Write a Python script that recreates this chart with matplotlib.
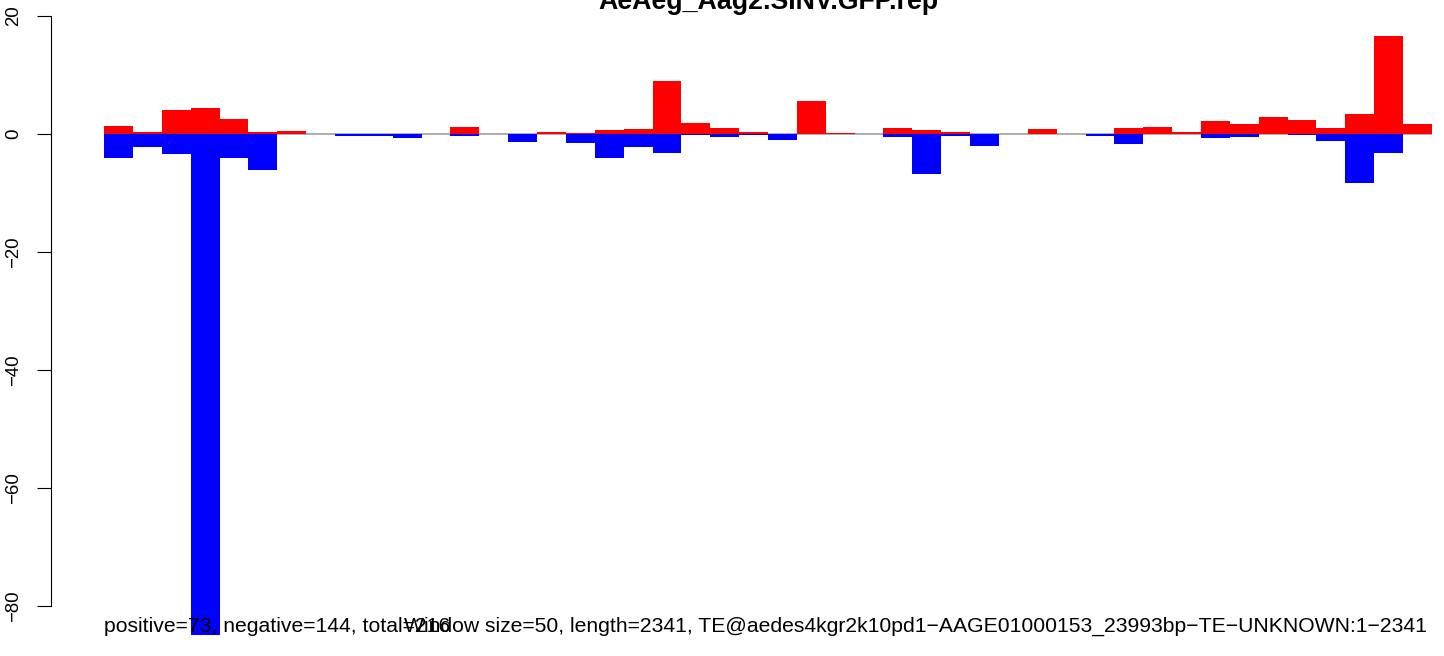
import matplotlib
matplotlib.use("Agg")
import matplotlib.pyplot as plt
import numpy as np

# ---- data ----
title = "AeAeg_Aag2.SINV.GFP.rep"
positive = [1.3, 0.3, 4.0, 4.4, 2.5, 0.3, 0.45, 0, 0, 0, 0, 0, 1.15, 0, 0, 0.3,
            0.1, 0.6, 0.8, 9.0, 1.8, 1.0, 0.3, 0, 5.6, 0.1, 0, 1.0, 0.6, 0.3, 0,
            0, 0.8, 0, 0, 1.0, 1.15, 0.3, 2.15, 1.65, 2.85, 2.35, 1.0, 3.35, 16.5, 1.65]
negative = [-4.1, -2.2, -3.45, -85.0, -4.07, -6.1, 0, 0, -0.34, -0.34, -0.68, 0, -0.34, 0,
            -1.36, 0, -1.5, -4.07, -2.2, -3.2, -0.17, -0.5, -0.17, -1.0, 0, 0, 0, -0.5,
            -6.8, -0.34, -2.0, 0, 0, 0, -0.34, -1.7, 0, 0, -0.68, -0.5, 0, -0.17, -1.2,
            -8.3, -3.2, 0]
yticks = [20, 0, -20, -40, -60, -80]
left_note = "positive=73, negative=144, total=216"
right_note = ("Window size=50, length=2341, TE@aedes4kgr2k10pd1\u2212AAGE01000153_"
              "23993bp\u2212TE\u2212UNKNOWN:1\u22122341")

plt.rcParams['font.family'] = ['Liberation Sans', 'DejaVu Sans']

W, H = 1444, 656
fig = plt.figure(figsize=(W / 100, H / 100), dpi=100)

n = len(positive)
x = np.arange(n)
ext = 0.04 * n
ax_left_px, ax_right_px = 51, 1485
ax = fig.add_axes([ax_left_px / W, 0, (ax_right_px - ax_left_px) / W, 1])
ax.set_xlim(-ext, n + ext)
zero_px, ppu = 133.7, 5.9
ax.set_ylim(-(H - zero_px) / ppu, zero_px / ppu)

ax.hlines(0, 0, n, color="#a0a0a0", lw=1.2, zorder=1)
ax.bar(x, positive, width=1, align='edge', color="#ff0000", linewidth=0, zorder=2)
ax.bar(x, negative, width=1, align='edge', color="#0000ff", linewidth=0, zorder=2)

for s in ['top', 'right', 'bottom']:
    ax.spines[s].set_visible(False)
ax.spines['left'].set_bounds(min(yticks), max(yticks))
ax.spines['left'].set_linewidth(0.8)
ax.set_xticks([])
ax.set_yticks(yticks)
ax.set_yticklabels([str(v).replace('-', '\u2212') for v in yticks], rotation=90,
                   va='center', fontsize=13.4)
ax.tick_params(axis='y', length=10, width=0.8, pad=10.5)
ax.patch.set_alpha(0)

renderer = fig.canvas.get_renderer()

def fit(t, target_px):
    bb = t.get_window_extent(renderer=renderer)
    t.set_fontsize(t.get_fontsize() * target_px / bb.width)

tt = fig.text(768 / W, 1 - 9 / H, title, ha='center', va='baseline',
              fontsize=18, fontweight='bold')
fit(tt, 340)
rt = fig.text(1427 / W, (H - 632) / H, right_note, ha='right', va='baseline', fontsize=13)
fit(rt, 1018)
lt = fig.text(104 / W, (H - 632) / H, left_note, ha='left', va='baseline',
              fontsize=rt.get_fontsize())

fig.savefig("out.png", dpi=100)
